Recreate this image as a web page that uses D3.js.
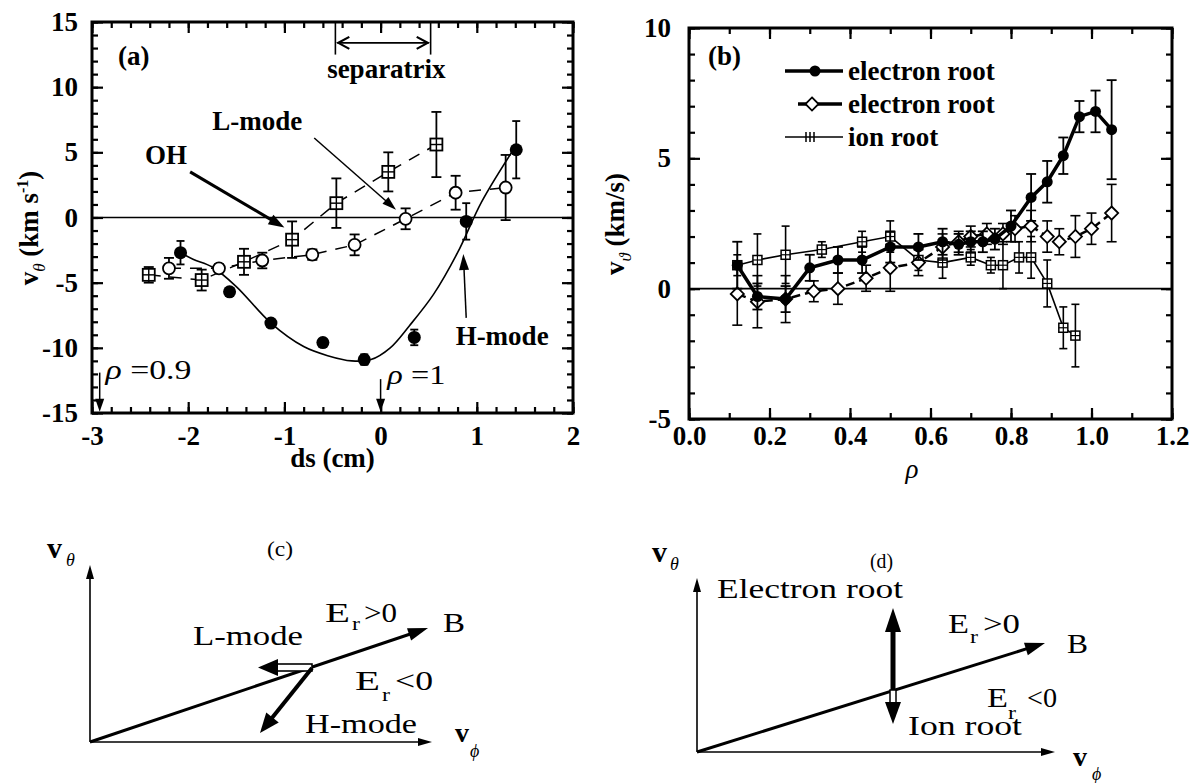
<!DOCTYPE html>
<html><head><meta charset="utf-8">
<script src="https://cdn.jsdelivr.net/npm/d3@7/dist/d3.min.js"></script>
<style>
body{margin:0;background:#fff;}
svg{display:block;}
text{font-family:"Liberation Serif","Times New Roman",Times,serif;fill:#000;}
</style></head><body>
<svg id="fig" width="1192" height="783"></svg>
<script>
// ---------------- Panel (a) data ----------------
const aHX=[-2.08,-1.57,-1.14,-0.60,-0.17,0.35,0.89,1.41];   // H-mode (filled)
const aHY=[-2.7,-5.7,-8.1,-9.6,-10.9,-9.2,-0.3,5.2];
const aHE=[0.9,0.3,0.3,0.3,0.4,0.6,1.4,2.2];
const aLX=[-2.20,-1.68,-1.23,-0.71,-0.27,0.26,0.78,1.30];   // L-mode (open circles)
const aLY=[-3.9,-3.9,-3.3,-2.85,-2.1,-0.1,1.9,2.3];
const aLE=[0.8,0.3,0.6,0.4,0.8,0.8,1.3,2.5];
const aOX=[-2.41,-1.86,-1.42,-0.92,-0.46,0.08,0.58];        // OH (squares)
const aOY=[-4.4,-4.8,-3.4,-1.7,1.1,3.5,5.6];
const aOE=[0.6,0.8,1.0,1.4,1.9,1.5,2.5];
const aFitX=[-2.08,-1.95,-1.75,-1.5,-1.14,-0.8,-0.55,-0.3,-0.1,0.1,0.3,0.55,0.8,1.05,1.38];
const aFitY=[-2.7,-3.2,-3.8,-5.3,-8.1,-9.9,-10.6,-11.0,-10.9,-10.0,-8.3,-5.9,-2.7,1.2,5.2];
const aXTicks=[-3,-2,-1,0,1,2];
const aYTicks=[-15,-10,-5,0,5,10,15];

// ---------------- Panel (b) data ----------------
const bEX=[0.12,0.17,0.24,0.30,0.37,0.43,0.50,0.57,0.63,0.67,0.70,0.73,0.76,0.80,0.85,0.89,0.93,0.97,1.01,1.05];
const bEY=[0.9,-0.3,-0.4,0.8,1.1,1.1,1.6,1.6,1.8,1.7,1.8,1.8,1.9,2.4,3.5,4.1,5.1,6.6,6.8,6.1];
const bEE=[0.9,0.5,0.5,0.5,0.5,0.5,0.6,0.5,0.5,0.4,0.4,0.4,0.4,0.6,0.9,0.8,0.7,0.6,0.8,1.9];
const bDX=[0.12,0.17,0.24,0.31,0.37,0.44,0.50,0.57,0.63,0.67,0.70,0.74,0.78,0.81,0.85,0.89,0.92,0.96,1.00,1.05];
const bDY=[-0.2,-0.5,-0.4,-0.1,0.0,0.4,0.8,1.0,1.6,1.8,2.0,2.1,2.1,2.3,2.4,2.0,1.8,2.0,2.3,2.9];
const bDE=[1.2,1.0,0.9,0.4,0.6,0.5,0.9,0.5,0.5,0.4,0.4,0.4,0.4,0.5,0.6,0.6,0.5,0.8,0.6,1.1];
const bIX=[0.12,0.17,0.24,0.33,0.43,0.50,0.57,0.63,0.70,0.75,0.78,0.82,0.85,0.89,0.93,0.96];
const bIY=[0.9,1.1,1.3,1.5,1.8,2.0,1.1,1.0,1.2,0.9,0.9,1.2,1.2,0.2,-1.5,-1.8];
const bIE=[0.4,1.0,1.1,0.3,0.4,0.6,0.4,0.6,0.3,0.3,0.9,0.6,0.8,0.9,0.8,1.2];
const bXTicks=[0,0.2,0.4,0.6,0.8,1.0,1.2];
const bYTicks=[-5,0,5,10];
const bLegend=["electron root","electron root","ion root"];

const svg=d3.select("#fig");
const FS=27;

function drawAxes(g,x,y,o){
  const [xl,xr]=x.range(), [yb,yt]=y.range();
  const minor=6, major=11;
  const sides=[
    [d3.axisBottom,`translate(0,${yb})`,x,o.xMin,o.xMaj,true,o.xFmt,o.xPad],
    [d3.axisTop,`translate(0,${yt})`,x,o.xMin,o.xMaj,false],
    [d3.axisLeft,`translate(${xl},0)`,y,o.yMin,o.yMaj,true,o.yFmt,o.yPad],
    [d3.axisRight,`translate(${xr},0)`,y,o.yMin,o.yMaj,false]];
  sides.forEach(([fn,tr,sc,mn,mj,lab,fmt,pad])=>{
    const m=g.append("g").attr("transform",tr).call(fn(sc).tickValues(mn).tickSize(-minor).tickFormat(""));
    m.select(".domain").remove();
    const ax=fn(sc).tickValues(mj).tickSize(-major);
    if(lab) ax.tickFormat(fmt).tickPadding(pad); else ax.tickFormat("");
    const gg=g.append("g").attr("transform",tr).call(ax);
    gg.select(".domain").remove();
    gg.selectAll("text").attr("font-size",FS).attr("font-weight","bold");
  });
  g.selectAll(".tick line").attr("stroke","#000").attr("stroke-width",2.2);
  g.append("rect").attr("x",xl).attr("y",yt).attr("width",xr-xl).attr("height",yb-yt)
    .attr("fill","none").attr("stroke","#000").attr("stroke-width",3);
}
function errBars(g,xs,ys,es,x,y,cap,sw){
  xs.forEach((v,i)=>{
    const cx=x(v), y1=y(ys[i]+es[i]), y2=y(ys[i]-es[i]);
    g.append("line").attr("x1",cx).attr("x2",cx).attr("y1",y1).attr("y2",y2).attr("stroke","#000").attr("stroke-width",sw);
    [y1,y2].forEach(yy=>g.append("line").attr("x1",cx-cap).attr("x2",cx+cap).attr("y1",yy).attr("y2",yy).attr("stroke","#000").attr("stroke-width",sw));
  });
}
function squares(g,xs,ys,x,y,h,sw){
  xs.forEach((v,i)=>{
    const cx=x(v), cy=y(ys[i]);
    g.append("rect").attr("x",cx-h).attr("y",cy-h).attr("width",2*h).attr("height",2*h).attr("fill","#fff").attr("stroke","#000").attr("stroke-width",sw);
    g.append("line").attr("x1",cx-h).attr("x2",cx+h).attr("y1",cy).attr("y2",cy).attr("stroke","#000").attr("stroke-width",sw*0.8);
    g.append("line").attr("x1",cx).attr("x2",cx).attr("y1",cy-h).attr("y2",cy+h).attr("stroke","#000").attr("stroke-width",sw*0.8);
  });
}
function head(g,x1,y1,x2,y2,len,wid){
  const a=Math.atan2(y2-y1,x2-x1);
  const bx=x2-len*Math.cos(a), by=y2-len*Math.sin(a);
  const px=-Math.sin(a)*wid/2, py=Math.cos(a)*wid/2;
  g.append("path").attr("d",`M${x2},${y2}L${bx+px},${by+py}L${bx-px},${by-py}Z`).attr("fill","#000");
}
function arrow(g,x1,y1,x2,y2,sw,len,wid){
  const a=Math.atan2(y2-y1,x2-x1);
  g.append("line").attr("x1",x1).attr("y1",y1).attr("x2",x2-len*0.7*Math.cos(a)).attr("y2",y2-len*0.7*Math.sin(a)).attr("stroke","#000").attr("stroke-width",sw);
  head(g,x1,y1,x2,y2,len,wid);
}
function txt(g,str,x,y,size,len,opt={}){
  const e=g.append("text").attr("x",x).attr("y",y).attr("font-size",size).text(str);
  if(len) e.attr("textLength",len).attr("lengthAdjust","spacingAndGlyphs");
  if(opt.italic) e.attr("font-style","italic");
  if(opt.bold) e.attr("font-weight","bold");
  if(opt.anchor) e.attr("text-anchor",opt.anchor);
  return e;
}

// =============== Panel (a) ===============
{
  const x=d3.scaleLinear([-3,2],[92,573]);
  const y=d3.scaleLinear([-15,15],[413,22]);
  const g=svg.append("g");
  const xMin=d3.range(-3,2.0001,0.2).map(v=>+v.toFixed(1));
  const yMin=d3.range(-15,15.0001,1);
  drawAxes(g,x,y,{xMin,xMaj:aXTicks,yMin,yMaj:aYTicks,xFmt:d=>String(d),yFmt:d=>String(d),xPad:13,yPad:14});
  g.append("line").attr("x1",x(-3)).attr("x2",x(2)).attr("y1",y(0)).attr("y2",y(0)).attr("stroke","#000").attr("stroke-width",1.6);

  // fit curve (H-mode)
  g.append("path").datum(aFitX.map((v,i)=>[v,aFitY[i]]))
    .attr("d",d3.line().x(d=>x(d[0])).y(d=>y(d[1])).curve(d3.curveCatmullRom))
    .attr("fill","none").attr("stroke","#000").attr("stroke-width",1.6);
  // dashed connectors
  const ln=d3.line().x(d=>x(d[0])).y(d=>y(d[1]));
  g.append("path").datum(aOX.map((v,i)=>[v,aOY[i]])).attr("d",ln).attr("fill","none").attr("stroke","#000").attr("stroke-width",1.5).attr("stroke-dasharray","12,9");
  g.append("path").datum(aLX.map((v,i)=>[v,aLY[i]])).attr("d",ln).attr("fill","none").attr("stroke","#000").attr("stroke-width",1.5).attr("stroke-dasharray","12,9");

  errBars(g,aOX,aOY,aOE,x,y,5,1.8);
  errBars(g,aLX,aLY,aLE,x,y,5,1.8);
  errBars(g,aHX,aHY,aHE,x,y,4,1.8);
  squares(g,aOX,aOY,x,y,6,1.8);
  aLX.forEach((v,i)=>g.append("circle").attr("cx",x(v)).attr("cy",y(aLY[i])).attr("r",6).attr("fill","#fff").attr("stroke","#000").attr("stroke-width",1.8));
  aHX.forEach((v,i)=>g.append("circle").attr("cx",x(v)).attr("cy",y(aHY[i])).attr("r",6.5).attr("fill","#000"));

  // annotations
  txt(g,"(a)",x(-2.73),y(11.7),FS,null,{bold:true});
  // separatrix bracket
  [-0.47,0.52].forEach(v=>g.append("line").attr("x1",x(v)).attr("x2",x(v)).attr("y1",y(15)).attr("y2",y(12.5)).attr("stroke","#000").attr("stroke-width",1.6));
  const sy=y(13.4);
  g.append("line").attr("x1",x(-0.45)).attr("x2",x(0.5)).attr("y1",sy).attr("y2",sy).attr("stroke","#000").attr("stroke-width",1.6);
  g.append("path").attr("d",`M${x(-0.45)+12},${sy-6}L${x(-0.45)+1},${sy}L${x(-0.45)+12},${sy+6}`).attr("fill","none").attr("stroke","#000").attr("stroke-width",2.2);
  g.append("path").attr("d",`M${x(0.5)-12},${sy-6}L${x(0.5)-1},${sy}L${x(0.5)-12},${sy+6}`).attr("fill","none").attr("stroke","#000").attr("stroke-width",2.2);
  txt(g,"separatrix",x(0.06),y(10.7),FS,null,{bold:true,anchor:"middle"});

  txt(g,"L-mode",x(-1.75),y(6.75),FS,null,{bold:true});
  arrow(g,x(-0.69),y(6.1),x(0.16),y(0.6),1.5,14,9);
  txt(g,"OH",x(-2.45),y(4.1),FS,null,{bold:true});
  arrow(g,x(-1.98),y(3.5),x(-1.0),y(-0.77),3,16,11);
  txt(g,"H-mode",x(0.78),y(-9.75),FS,null,{bold:true});
  arrow(g,x(0.89),y(-7.7),x(0.86),y(-2.8),1.5,16,10);

  const r1=g.append("text").attr("x",x(-2.86)).attr("y",y(-12.4)).attr("font-size",FS).attr("textLength",86).attr("lengthAdjust","spacingAndGlyphs");
  r1.append("tspan").attr("font-style","italic").text("ρ");
  r1.append("tspan").text(" =0.9");
  arrow(g,x(-2.92),y(-11.9),x(-2.92),y(-14.9),1.5,13,9);
  const r2=g.append("text").attr("x",x(0.07)).attr("y",y(-12.8)).attr("font-size",FS).attr("textLength",58).attr("lengthAdjust","spacingAndGlyphs");
  r2.append("tspan").attr("font-style","italic").text("ρ");
  r2.append("tspan").text(" =1");
  arrow(g,x(0.0),y(-12.4),x(0.0),y(-14.9),1.5,13,9);

  // axis titles
  const ya=svg.append("text").attr("transform","translate(38,228) rotate(-90)").attr("text-anchor","middle").attr("font-size",FS).attr("font-weight","bold");
  ya.append("tspan").text("v");
  ya.append("tspan").attr("font-size",17).attr("font-style","italic").attr("font-weight","normal").attr("dy",7).text("θ");
  ya.append("tspan").attr("dy",-7).text(" (km s");
  ya.append("tspan").attr("font-size",16).attr("dy",-10).text("-1");
  ya.append("tspan").attr("dy",10).text(")");
  txt(svg,"ds (cm)",(x(-3)+x(2))/2,467,FS,null,{bold:true,anchor:"middle"});
}

// =============== Panel (b) ===============
{
  const x=d3.scaleLinear([0,1.2],[689,1172]);
  const y=d3.scaleLinear([-5,10],[419,28]);
  const g=svg.append("g");
  const xMin=d3.range(0,1.2001,0.1).map(v=>+v.toFixed(1));
  const yMin=d3.range(-5,10.0001,1);
  drawAxes(g,x,y,{xMin,xMaj:bXTicks,yMin,yMaj:bYTicks,xFmt:d3.format(".1f"),yFmt:d=>String(d),xPad:7,yPad:18});
  g.append("line").attr("x1",x(0)).attr("x2",x(1.2)).attr("y1",y(0)).attr("y2",y(0)).attr("stroke","#000").attr("stroke-width",1.6);

  const ln=d3.line().x(d=>x(d[0])).y(d=>y(d[1]));
  // ion root
  g.append("path").datum(bIX.map((v,i)=>[v,bIY[i]])).attr("d",ln).attr("fill","none").attr("stroke","#000").attr("stroke-width",1.6);
  errBars(g,bIX,bIY,bIE,x,y,4,1.6);
  squares(g,bIX,bIY,x,y,4.5,1.5);
  // electron root (open)
  g.append("path").datum(bDX.map((v,i)=>[v,bDY[i]])).attr("d",ln).attr("fill","none").attr("stroke","#000").attr("stroke-width",2.5).attr("stroke-dasharray","9,5");
  errBars(g,bDX,bDY,bDE,x,y,5,1.6);
  const dia=d3.symbol().type(d3.symbolDiamond2).size(110);
  bDX.forEach((v,i)=>g.append("path").attr("d",dia()).attr("transform",`translate(${x(v)},${y(bDY[i])})`).attr("fill","#fff").attr("stroke","#000").attr("stroke-width",1.8));
  // electron root (filled)
  g.append("path").datum(bEX.map((v,i)=>[v,bEY[i]])).attr("d",ln).attr("fill","none").attr("stroke","#000").attr("stroke-width",3.5);
  errBars(g,bEX,bEY,bEE,x,y,5,1.8);
  bEX.forEach((v,i)=>g.append("circle").attr("cx",x(v)).attr("cy",y(bEY[i])).attr("r",5.5).attr("fill","#000"));

  txt(g,"(b)",708,65,FS,null,{bold:true});
  // legend
  const L=[71,104,137];
  g.append("line").attr("x1",785).attr("x2",843).attr("y1",L[0]).attr("y2",L[0]).attr("stroke","#000").attr("stroke-width",3.5);
  g.append("circle").attr("cx",815).attr("cy",L[0]).attr("r",5.5).attr("fill","#000");
  g.append("line").attr("x1",798).attr("x2",807).attr("y1",L[1]).attr("y2",L[1]).attr("stroke","#000").attr("stroke-width",3.5);
  g.append("line").attr("x1",818).attr("x2",842).attr("y1",L[1]).attr("y2",L[1]).attr("stroke","#000").attr("stroke-width",3.5);
  g.append("path").attr("d",dia()).attr("transform",`translate(812,${L[1]})`).attr("fill","#fff").attr("stroke","#000").attr("stroke-width",1.8);
  g.append("line").attr("x1",785).attr("x2",843).attr("y1",L[2]).attr("y2",L[2]).attr("stroke","#000").attr("stroke-width",1.4);
  [806,810,814].forEach(xx=>g.append("line").attr("x1",xx).attr("x2",xx).attr("y1",L[2]-5).attr("y2",L[2]+5).attr("stroke","#000").attr("stroke-width",1.5));
  bLegend.forEach((s,i)=>txt(g,s,848,L[i]+9,FS,null,{bold:true}));

  const yb=svg.append("text").attr("transform","translate(624,224) rotate(-90)").attr("text-anchor","middle").attr("font-size",FS).attr("font-weight","bold");
  yb.append("tspan").text("v");
  yb.append("tspan").attr("font-size",17).attr("font-style","italic").attr("font-weight","normal").attr("dy",7).text("ϑ");
  yb.append("tspan").attr("dy",-7).text("  (km/s)");
  txt(svg,"ρ",912,478,FS,null,{italic:true,anchor:"middle"});
}

// =============== Panel (c) ===============
{
  const g=svg.append("g");
  arrow(g,90,742,90,565,1.6,14,8);
  arrow(g,90,742,432,742,1.6,14,8);
  arrow(g,90,742,428,628,3,20,13);
  // L-mode hollow arrow
  g.append("rect").attr("x",274).attr("y",664).attr("width",38).attr("height",7).attr("fill","#fff").attr("stroke","#000").attr("stroke-width",1.6);
  head(g,312,667.5,258,667.5,20,17);
  arrow(g,312,668,260,733,4,20,16);
  txt(g,"v",47,558,30,null,{bold:true});
  txt(g,"θ",66,566,18,null,{italic:true});
  txt(g,"(c)",267,556,22,26);
  txt(g,"E",325,622,27,25); txt(g,"r",352,630,18,8); txt(g,">0",364,622,27,33);
  txt(g,"B",443,632,28,22);
  txt(g,"L-mode",193,645,27,110);
  txt(g,"E",355,690,27,25); txt(g,"r",382,701,18,8); txt(g,"<0",395,690,27,38);
  txt(g,"H-mode",305,733,27,112);
  txt(g,"v",455,742,28,null,{bold:true});
  txt(g,"ϕ",470,757,18,null,{italic:true});
}

// =============== Panel (d) ===============
{
  const g=svg.append("g");
  arrow(g,697,752,697,578,1.6,14,8);
  arrow(g,697,752,1055,752,1.6,14,8);
  arrow(g,697,752,1045,643,3,20,13);
  // double vertical arrow
  g.append("line").attr("x1",893).attr("x2",893).attr("y1",628).attr("y2",690).attr("stroke","#000").attr("stroke-width",5);
  head(g,893,690,893,608,24,16);
  g.append("rect").attr("x",890).attr("y",690).attr("width",6).attr("height",13).attr("fill","#fff").attr("stroke","#000").attr("stroke-width",1.5);
  head(g,893,690,893,724,22,16);
  txt(g,"v",652,562,30,null,{bold:true});
  txt(g,"θ",670,570,18,null,{italic:true});
  txt(g,"(d)",870,568,22,23);
  txt(g,"Electron root",717,598,27,186);
  txt(g,"E",948,633,27,21); txt(g,"r",970,643,18,8); txt(g,">0",983,633,27,37);
  txt(g,"B",1067,653,28,21);
  txt(g,"E",987,707,27,21); txt(g,"r",1008,719,18,8); txt(g,"<0",1027,707,27,30);
  txt(g,"Ion root",908,735,27,114);
  txt(g,"v",1073,766,28,null,{bold:true});
  txt(g,"ϕ",1092,780,18,null,{italic:true});
}
</script></body></html>
